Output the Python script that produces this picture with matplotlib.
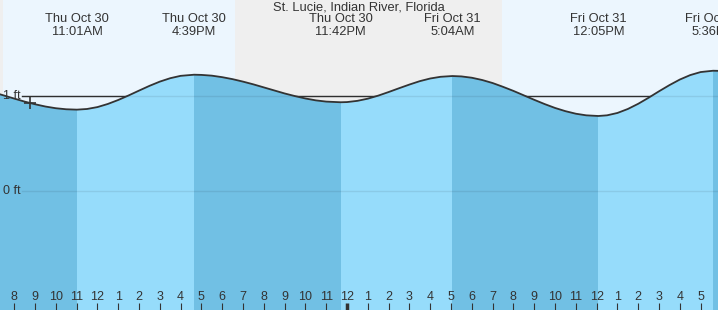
import numpy as np
import matplotlib
matplotlib.use("Agg")
import matplotlib.pyplot as plt
from matplotlib.transforms import blended_transform_factory

plt.rcParams['font.family'] = ['Liberation Sans', 'DejaVu Sans']

# data: hours counted from Thu Oct 30 00:00, heights in ft
tide_hours = [7.3, 7.5, 8, 8.5, 9, 9.5, 10, 10.5, 11.017, 11.5, 12, 12.5, 13, 13.5, 14, 14.5,
              15, 15.5, 16, 16.65, 17, 17.5, 18, 18.5, 19, 19.5, 20, 20.5, 21, 21.5, 22, 22.5,
              23, 23.7, 24, 24.5, 25, 25.5, 26, 26.5, 27, 27.5, 28, 28.5, 29.067, 29.5, 30,
              30.5, 31, 31.5, 32, 32.5, 33, 33.5, 34, 34.5, 35, 35.5, 36.083, 36.5, 37, 37.5,
              38, 38.5, 39, 39.5, 40, 40.5, 41, 41.6, 42]
tide_ft = [1.022, 1.009, 0.976, 0.944, 0.916, 0.892, 0.874, 0.863, 0.859, 0.866, 0.886, 0.919,
           0.961, 1.009, 1.060, 1.110, 1.155, 1.191, 1.216, 1.228, 1.226, 1.218, 1.202, 1.181,
           1.155, 1.126, 1.094, 1.062, 1.030, 1.002, 0.977, 0.957, 0.944, 0.937, 0.939, 0.952,
           0.975, 1.007, 1.045, 1.085, 1.124, 1.160, 1.188, 1.206, 1.214, 1.210, 1.196, 1.172,
           1.140, 1.100, 1.057, 1.010, 0.963, 0.918, 0.877, 0.843, 0.816, 0.799, 0.792, 0.799,
           0.824, 0.866, 0.921, 0.985, 1.053, 1.118, 1.177, 1.224, 1.256, 1.270, 1.268]

event_hours = [11.017, 16.65, 23.7, 29.067, 36.083, 41.6]
event_days = ['Thu Oct 30', 'Thu Oct 30', 'Thu Oct 30', 'Fri Oct 31', 'Fri Oct 31', 'Fri Oct 31']
event_clock = ['11:01AM', '4:39PM', '11:42PM', '5:04AM', '12:05PM', '5:36PM']

sunrise_hours = [7.46, 31.45]
sunset_hours = [18.62]

tick_hours = list(range(8, 42))
tick_labels = [str((h - 1) % 12 + 1) for h in tick_hours]

now_hour = 8.76
now_ft = 0.928

x0, x1 = 7.317, 41.835
y0, y1 = -1.257, 2.017

sky = '#ecf6fe'
night = '#efefef'
water_light = '#96dcfb'
water_dark = '#71c0e4'
ink = '#333333'

fig = plt.figure(figsize=(7.18, 3.10), dpi=100)
ax = fig.add_axes([0, 0, 1, 1])
ax.set_xlim(x0, x1)
ax.set_ylim(y0, y1)
ax.set_facecolor(sky)
for s in ax.spines.values():
    s.set_visible(False)

# night shading
ax.axvspan(x0, sunrise_hours[0], color=night, lw=0, zorder=0)
ax.axvspan(sunset_hours[0], sunrise_hours[1], color=night, lw=0, zorder=0)

# 1 ft line (behind water)
ax.axhline(1, xmin=22 / 718, color=ink, lw=1.0, zorder=1)

# water, banded between tide events
poly = ax.fill_between(tide_hours, tide_ft, y0 - 1, color='none', lw=0)
edges = [x0] + event_hours + [x1]
for i in range(len(edges) - 1):
    c = water_dark if i % 2 == 0 else water_light
    r = ax.axvspan(edges[i], edges[i + 1], color=c, lw=0, zorder=2)
    r.set_clip_path(poly.get_paths()[0], ax.transData)

# faint grid lines over the water
ax.axhline(1, xmin=22 / 718, color='black', alpha=0.08, lw=1.0, zorder=3)
ax.axhline(0, xmin=22 / 718, color='black', alpha=0.08, lw=1.0, zorder=3)

ax.plot(tide_hours, tide_ft, color=ink, lw=1.3, zorder=4)
ax.plot([now_hour], [now_ft], marker='+', ms=9, mew=1.2, color=ink, zorder=5)

bt = blended_transform_factory(ax.transAxes, ax.transData)
ax.text(3 / 718, 1, '1 ft', transform=bt, ha='left', va='center', fontsize=9, color=ink, zorder=6)
ax.text(3 / 718, 0, '0 ft', transform=bt, ha='left', va='center', fontsize=9, color=ink, zorder=6)

# header labels
ht = blended_transform_factory(ax.transData, ax.transAxes)
for h, d, c in zip(event_hours, event_days, event_clock):
    ax.text(h, 1 - 19 / 310, d, transform=ht, ha='center', va='center', fontsize=9.3, color=ink, zorder=6)
    ax.text(h, 1 - 32 / 310, c, transform=ht, ha='center', va='center', fontsize=9.3, color=ink, zorder=6)
ax.text(0.5, 1 - 7 / 310, 'St. Lucie, Indian River, Florida', transform=ax.transAxes,
        ha='center', va='center', fontsize=9.3, color=ink, zorder=6)

# hour ticks
ax.set_xticks(tick_hours)
ax.set_xticklabels(tick_labels)
ax.tick_params(axis='x', direction='in', length=5.3, width=0.8, color=ink,
               labelsize=9, labelcolor=ink, pad=-14)
ax.set_yticks([])
ax.xaxis.set_zorder(7)
for t, h in zip(ax.xaxis.get_major_ticks(), tick_hours):
    if h == 24:
        t.tick1line.set_markeredgewidth(2.5)
        t.tick1line.set_color('black')

fig.savefig('out.png', dpi=100)
